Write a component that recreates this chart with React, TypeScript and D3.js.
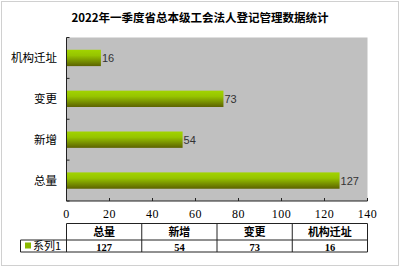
import React from "react";
import * as d3 from "d3";

const title = "2022年一季度省总本级工会法人登记管理数据统计";
const categories = ["总量", "新增", "变更", "机构迁址"];
const values = [127, 54, 73, 16];
const seriesName = "系列1";
const xTicks = [0, 20, 40, 60, 80, 100, 120, 140];

const W = 400;
const H = 267;

export default function App() {
  const left = 66.5;
  const right = 367.5;
  const top = 37.5;
  const bottom = 201;
  const x = d3.scaleLinear().domain([0, 140]).range([left, right]);
  const yOrder = [...categories].reverse();
  const y = d3
    .scaleBand<string>()
    .domain(yOrder)
    .range([top, bottom])
    .paddingInner(0.6)
    .paddingOuter(0.3);
  const band = (bottom - top) / categories.length;

  const tableTop = 223.5;
  const headerBottom = 240;
  const rowBottom = 252;
  const legendLeft = 20.5;
  const colW = (right - left) / categories.length;

  const cjk = "'Noto Sans CJK SC', 'Noto Sans', sans-serif";
  const serif = "'Liberation Serif', 'DejaVu Serif', serif";

  return (
    <svg
      width={W}
      height={H}
      style={{ position: "absolute", left: 0, top: 0, background: "#fff" }}
    >
      <defs>
        <linearGradient id="barGrad" x1="0" y1="0" x2="0" y2="1">
          <stop offset="0%" stopColor="#a2d400" />
          <stop offset="35%" stopColor="#96c400" />
          <stop offset="100%" stopColor="#5c6200" />
        </linearGradient>
      </defs>
      <rect x={1.5} y={1.5} width={W - 3} height={H - 3} fill="#fff" stroke="#d0d0d0" />
      <text
        x={200}
        y={22}
        textAnchor="middle"
        fontFamily={cjk}
        fontWeight="bold"
        fontSize={11.5}
        fill="#000"
      >
        {title}
      </text>
      {/* plot area */}
      <rect x={left} y={top} width={right - left} height={bottom - top} fill="#c0c0c0" />
      {/* bars */}
      {categories.map((c, i) => (
        <g key={c}>
          <rect
            x={x(0)}
            y={y(c)}
            width={x(values[i]) - x(0)}
            height={y.bandwidth()}
            fill="url(#barGrad)"
          />
          <text
            x={x(values[i]) + 1}
            y={(y(c) as number) + y.bandwidth() / 2 + 4}
            fontFamily="'Liberation Sans', sans-serif"
            fontSize={11}
            fill="#333"
          >
            {values[i]}
          </text>
          <text
            x={57}
            y={(y(c) as number) + y.bandwidth() / 2 + 4}
            textAnchor="end"
            fontFamily={cjk}
            fontSize={11.5}
            fill="#000"
          >
            {c}
          </text>
        </g>
      ))}
      {/* axes */}
      <line x1={left} x2={left} y1={top} y2={bottom} stroke="#222" />
      <line x1={left} x2={right} y1={bottom} y2={bottom} stroke="#222" />
      {d3.range(categories.length + 1).map((i) => (
        <line
          key={"yt" + i}
          x1={left}
          x2={left + 3}
          y1={top + i * band}
          y2={top + i * band}
          stroke="#222"
        />
      ))}
      {xTicks.map((t) => (
        <g key={"xt" + t}>
          <line x1={x(t)} x2={x(t)} y1={bottom} y2={bottom - 3} stroke="#222" />
          <text
            x={x(t)}
            y={217.5}
            textAnchor="middle"
            fontFamily={serif}
            fontSize={12}
            letterSpacing={0.5}
            fill="#000"
          >
            {t}
          </text>
        </g>
      ))}
      {/* data table */}
      <g stroke="#222" strokeWidth={1} fill="none">
        <line x1={left} x2={right} y1={tableTop} y2={tableTop} />
        <line x1={legendLeft} x2={right} y1={headerBottom} y2={headerBottom} />
        <line x1={legendLeft} x2={right} y1={rowBottom} y2={rowBottom} />
        <line x1={legendLeft} x2={legendLeft} y1={headerBottom} y2={rowBottom} />
        {d3.range(categories.length + 1).map((i) => (
          <line
            key={"cv" + i}
            x1={left + i * colW}
            x2={left + i * colW}
            y1={tableTop}
            y2={rowBottom}
          />
        ))}
      </g>
      {categories.map((c, i) => (
        <g key={"tb" + c}>
          <text
            x={left + (i + 0.5) * colW}
            y={235.5}
            textAnchor="middle"
            fontFamily={cjk}
            fontWeight="bold"
            fontSize={11}
            fill="#000"
          >
            {c}
          </text>
          <text
            x={left + (i + 0.5) * colW}
            y={250.5}
            textAnchor="middle"
            fontFamily={serif}
            fontWeight="bold"
            fontSize={10.5}
            fill="#000"
          >
            {values[i]}
          </text>
        </g>
      ))}
      <rect x={25} y={242.5} width={6} height={6} fill="#8ab800" />
      <text x={33} y={250} fontFamily={cjk} fontSize={11} fill="#000">
        {seriesName}
      </text>
    </svg>
  );
}
